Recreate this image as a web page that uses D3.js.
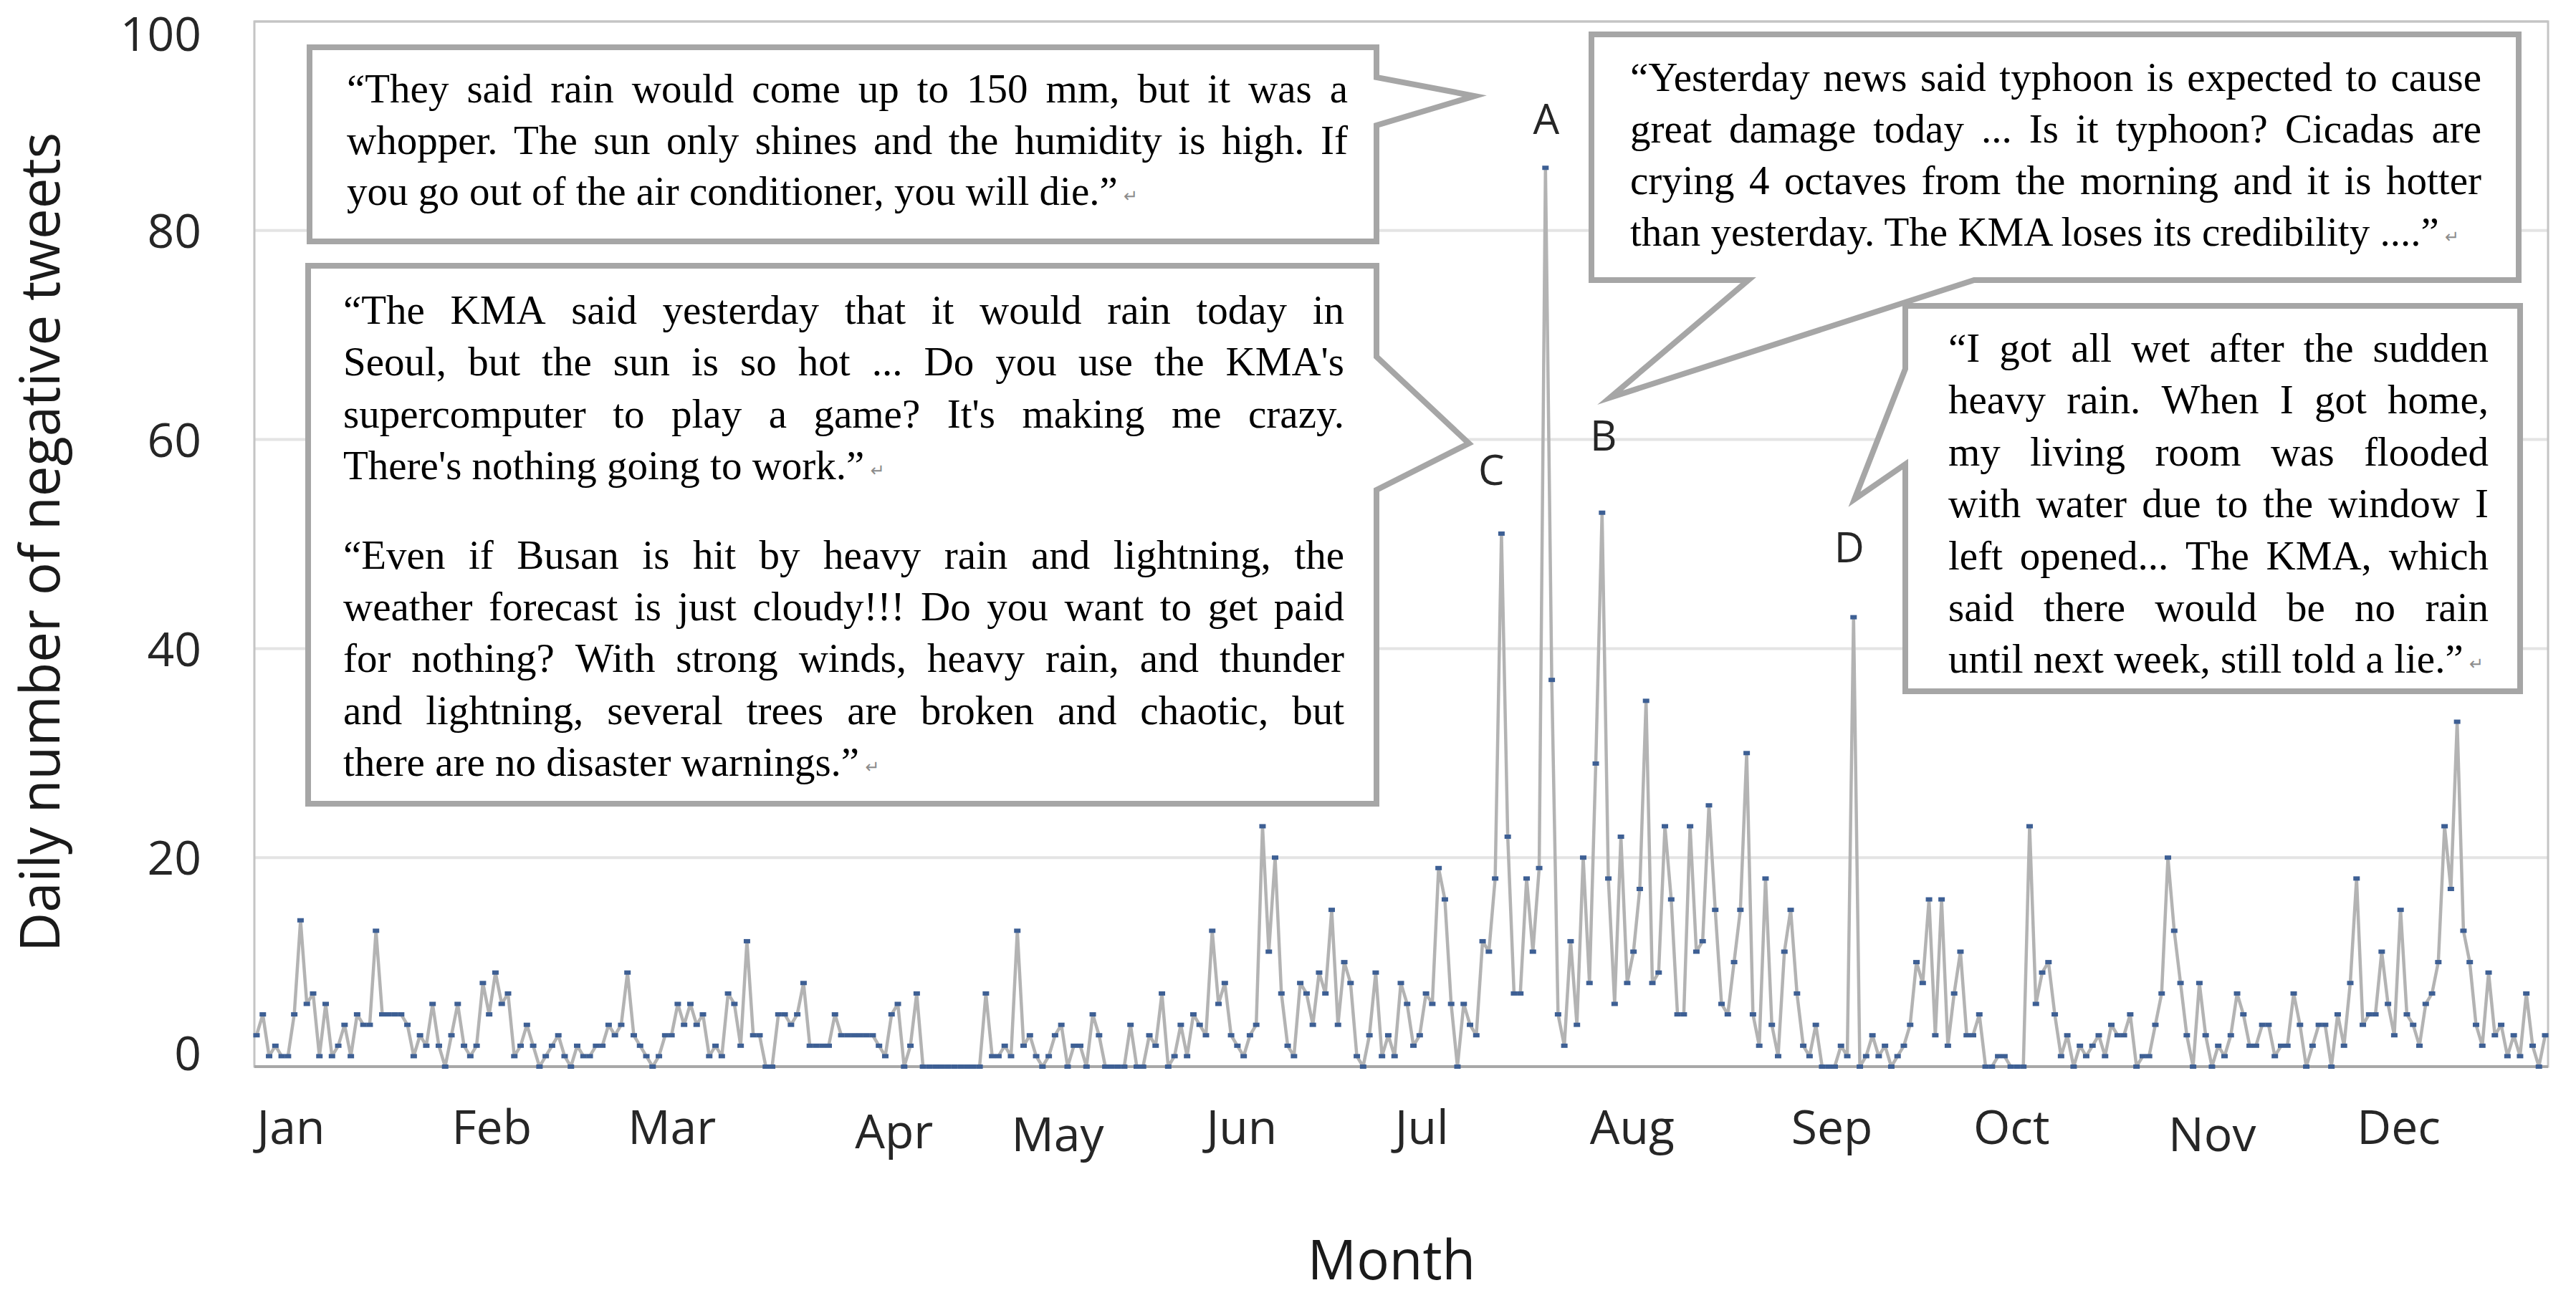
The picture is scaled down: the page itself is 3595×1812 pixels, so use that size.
<!DOCTYPE html>
<html>
<head>
<meta charset="utf-8">
<script src="https://cdn.jsdelivr.net/npm/d3@7/dist/d3.min.js"></script>
<style>
html,body{margin:0;padding:0;background:#fff;}
svg{display:block;}
</style>
</head>
<body>
<svg id="chart" width="3595" height="1812"></svg>
<script>
// ---------------- DATA ----------------
const monthLabels = ["Jan","Feb","Mar","Apr","May","Jun","Jul","Aug","Sep","Oct","Nov","Dec"];
const monthStartDay = [1,32,60,91,121,152,182,213,244,274,305,335];
const yTicks = [0,20,40,60,80,100];

// daily number of negative tweets, one array per month
const jan = [3,5,1,2,1,1,5,14,6,7,1,6,1,2,4,1,5,4,4,13,5,5,5,5,4,1,3,2,6,2,0];
const feb = [3,6,2,1,2,8,5,9,6,7,1,2,4,2,0,1,2,3,1,0,2,1,1,2,2,4,3,4];
const mar = [9,3,2,1,0,1,3,3,6,4,6,4,5,1,2,1,7,6,2,12,3,3,0,0,5,5,4,5,8,2,2];
const apr = [2,2,5,3,3,3,3,3,3,2,1,5,6,0,2,7,0,0,0,0,0,0,0,0,0,0,7,1,1,2];
const may = [1,13,2,3,1,0,1,3,4,0,2,2,0,5,3,0,0,0,0,4,0,0,3,2,7,0,1,4,1,5,4];
const jun = [3,13,6,8,3,2,1,3,4,23,11,20,7,2,1,8,7,4,9,7,15,4,10,8,1,0,3,9,1,3];
const jul = [1,8,6,2,3,7,6,19,16,6,0,6,4,3,12,11,18,51,22,7,7,18,11,19,86,37,5,2,12,4,20];
const aug = [8,29,53,18,6,22,8,11,17,35,8,9,23,16,5,5,23,11,12,25,15,6,5,10,15,30,5,2,18,4,1];
const sep = [11,15,7,2,1,4,0,0,0,2,1,43,0,1,3,1,2,0,1,2,4,10,8,16,3,16,2,7,11,3];
const oct = [3,5,0,0,1,1,0,0,0,23,6,9,10,5,1,3,0,2,1,2,3,1,4,3,3,5,0,1,1,4,7];
const nov = [20,13,8,3,0,8,3,0,2,1,3,7,5,2,2,4,4,1,2,2,7,4,0,2,4,4,0,5,2,8];
const dec = [18,4,5,5,11,6,3,15,5,4,2,6,7,10,23,17,33,13,10,4,2,9,3,4,1,3,1,7,2,0,3];

const peakLetters = ["A","B","C","D"];
const peakDays = [206,215,199,255];

const quote1 = [[
  "\u201CThey said rain would come up to 150 mm, but it was a",
  "whopper. The sun only shines and the humidity is high. If",
  "you go out of the air conditioner, you will die.\u201D"
]];
const quote2 = [[
  "\u201CThe KMA said yesterday that it would rain today in",
  "Seoul, but the sun is so hot ... Do you use the KMA's",
  "supercomputer to play a game? It's making me crazy.",
  "There's nothing going to work.\u201D"
],[
  "\u201CEven if Busan is hit by heavy rain and lightning, the",
  "weather forecast is just cloudy!!! Do you want to get paid",
  "for nothing? With strong winds, heavy rain, and thunder",
  "and lightning, several trees are broken and chaotic, but",
  "there are no disaster warnings.\u201D"
]];
const quote3 = [[
  "\u201CYesterday news said typhoon is expected to cause",
  "great damage today ... Is it typhoon? Cicadas are",
  "crying 4 octaves from the morning and it is hotter",
  "than yesterday. The KMA loses its credibility ....\u201D"
]];
const quote4 = [[
  "\u201CI got all wet after the sudden",
  "heavy rain. When I got home,",
  "my living room was flooded",
  "with water due to the window I",
  "left opened... The KMA, which",
  "said there would be no rain",
  "until next week, still told a lie.\u201D"
]];

// ---------------- LAYOUT ----------------
const plot = {l:355, r:3556, t:30, b:1489};
const svg = d3.select("#chart");

const daily = [].concat(jan,feb,mar,apr,may,jun,jul,aug,sep,oct,nov,dec);
const series = daily.map((v,i)=>({day:i+1, v:v}));

const x = d3.scaleLinear().domain([1,365]).range([358, 3552]);
const y = d3.scaleLinear().domain([0,100]).range([plot.b, plot.t]);

const sansFont = "'Open Sans','Noto Sans','Liberation Sans',sans-serif";
const serifFont = "'Liberation Serif','Times New Roman',serif";

// gridlines
svg.append("g").selectAll("line").data(yTicks.filter(d=>d>0)).join("line")
  .attr("x1", plot.l).attr("x2", plot.r)
  .attr("y1", d=>y(d)).attr("y2", d=>y(d))
  .attr("stroke", "#e4e4e4").attr("stroke-width", 4);

// frame
svg.append("rect").attr("x", plot.l).attr("y", plot.t)
  .attr("width", plot.r-plot.l).attr("height", plot.b-plot.t)
  .attr("fill","none").attr("stroke","#c4c4c4").attr("stroke-width",3);
// zero axis line
svg.append("line").attr("x1", plot.l).attr("x2", plot.r)
  .attr("y1", y(0)).attr("y2", y(0))
  .attr("stroke","#a8a8a8").attr("stroke-width",4);

// y axis labels
const yAxis = d3.axisLeft(y).tickValues(yTicks).tickSize(0).tickPadding(74);
const yg = svg.append("g").attr("transform", `translate(${plot.l},0)`).call(yAxis);
yg.select(".domain").remove();
yg.selectAll("text")
  .attr("font-family", sansFont).attr("font-size", 66).attr("fill","#262626")
  .attr("dy","0.36em")
  .attr("y", d => Math.min(Math.max(y(d), 47), 1470) - y(d));

// x axis month labels
const monthNudge = {Apr:[45,6], May:[0,10], Sep:[9,0], Nov:[0,10]};
const xAxis = d3.axisBottom(x).tickValues(monthStartDay)
  .tickFormat((d,i)=>monthLabels[i]).tickSize(0);
const xg = svg.append("g").attr("transform", `translate(0,${plot.b})`).call(xAxis);
xg.select(".domain").remove();
xg.selectAll("text")
  .attr("font-family", sansFont).attr("font-size", 66).attr("fill","#262626")
  .attr("text-anchor","start").attr("dy", 0)
  .attr("x", (d,i)=> (monthNudge[monthLabels[i]]||[0,0])[0])
  .attr("y", (d,i)=> 108 + (monthNudge[monthLabels[i]]||[0,0])[1]);

// axis titles
svg.append("text")
  .attr("transform","translate(83,757) rotate(-90)")
  .attr("text-anchor","middle")
  .attr("font-family", sansFont).attr("font-size", 76).attr("fill","#1a1a1a")
  .attr("textLength", 1144).attr("lengthAdjust","spacingAndGlyphs")
  .text("Daily number of negative tweets");
svg.append("text")
  .attr("x", 1942).attr("y", 1786).attr("text-anchor","middle")
  .attr("font-family", sansFont).attr("font-size", 76).attr("fill","#1a1a1a")
  .text("Month");

// data line
const line = d3.line().x(d=>x(d.day)).y(d=>y(d.v));
svg.append("path").datum(series)
  .attr("d", line).attr("fill","none")
  .attr("stroke","#b3b3b3").attr("stroke-width",4.5).attr("stroke-linejoin","round");
svg.append("g").selectAll("rect").data(series).join("rect")
  .attr("x", d=>x(d.day)-4.5).attr("y", d=>y(d.v)-3)
  .attr("width", 9).attr("height", 6)
  .attr("fill","#3d5f94");

// peak letters
const letterOffset = {A:[1,-47], B:[2,-87], C:[-14,-68], D:[-6,-77]};
svg.append("g").selectAll("text").data(peakLetters).join("text")
  .attr("x", (d,i)=> x(peakDays[i]) + letterOffset[d][0])
  .attr("y", (d,i)=> y(daily[peakDays[i]-1]) + letterOffset[d][1])
  .attr("text-anchor","middle")
  .attr("font-family", sansFont).attr("font-size", 58).attr("fill","#262626")
  .text(d=>d);

// callout boxes
const boxStyle = sel => sel.attr("fill","#fff").attr("stroke","#a6a6a6")
  .attr("stroke-width",8).attr("stroke-linejoin","miter").attr("stroke-miterlimit",10);
const poly = pts => "M" + pts.map(p=>p.join(",")).join("L") + "Z";

svg.append("path").attr("d", poly([[432,66],[1921,66],[1921,108],[2058,134],[1921,175],[1921,337],[432,337]])).call(boxStyle);
svg.append("path").attr("d", poly([[430,371],[1921,371],[1921,498],[2050,619],[1921,684],[1921,1122],[430,1122]])).call(boxStyle);
svg.append("path").attr("d", poly([[2221,48],[3515,48],[3515,391],[2755,391],[2247,555],[2440,391],[2221,391]])).call(boxStyle);
svg.append("path").attr("d", poly([[2659,427],[3517,427],[3517,965],[2659,965],[2659,648],[2588,697],[2659,515]])).call(boxStyle);

// justified quote text
const textG = svg.append("g").attr("font-family", serifFont).attr("font-size", 57).attr("fill","#000");
const meas = textG.append("text").attr("visibility","hidden").attr("x",0).attr("y",-100);
function tw(s){ meas.text(s); return meas.node().getComputedTextLength(); }

function drawQuote(paragraphs, spec){
  let yb = spec.first;
  paragraphs.forEach((para, pi)=>{
    if(pi>0) yb += spec.paraGap;
    para.forEach((ln, li)=>{
      const t = textG.append("text").attr("y", yb);
      const last = li === para.length-1;
      if(!last){
        const words = ln.split(" ");
        const ws = words.map(tw);
        const total = d3.sum(ws);
        const gap = (spec.width - total)/(words.length-1);
        let cx = spec.x;
        words.forEach((wd,i)=>{
          t.append("tspan").attr("x", cx).text(wd);
          cx += ws[i] + gap;
        });
      } else {
        t.attr("x", spec.x);
        t.append("tspan").text(ln);
        t.append("tspan").attr("dx", 8).attr("dy", -4)
          .attr("font-family","'DejaVu Sans',sans-serif").attr("font-size", 24)
          .attr("fill","#8c8c8c").text("\u21B5");
      }
      yb += spec.step;
    });
  });
}
drawQuote(quote1, {x:484, width:1397, first:143, step:71.5, paraGap:0});
drawQuote(quote2, {x:479, width:1397, first:452, step:72.4, paraGap:52});
drawQuote(quote3, {x:2275, width:1188, first:127, step:72, paraGap:0});
drawQuote(quote4, {x:2719, width:754, first:505, step:72.4, paraGap:0});
meas.remove();
</script>
</body>
</html>
